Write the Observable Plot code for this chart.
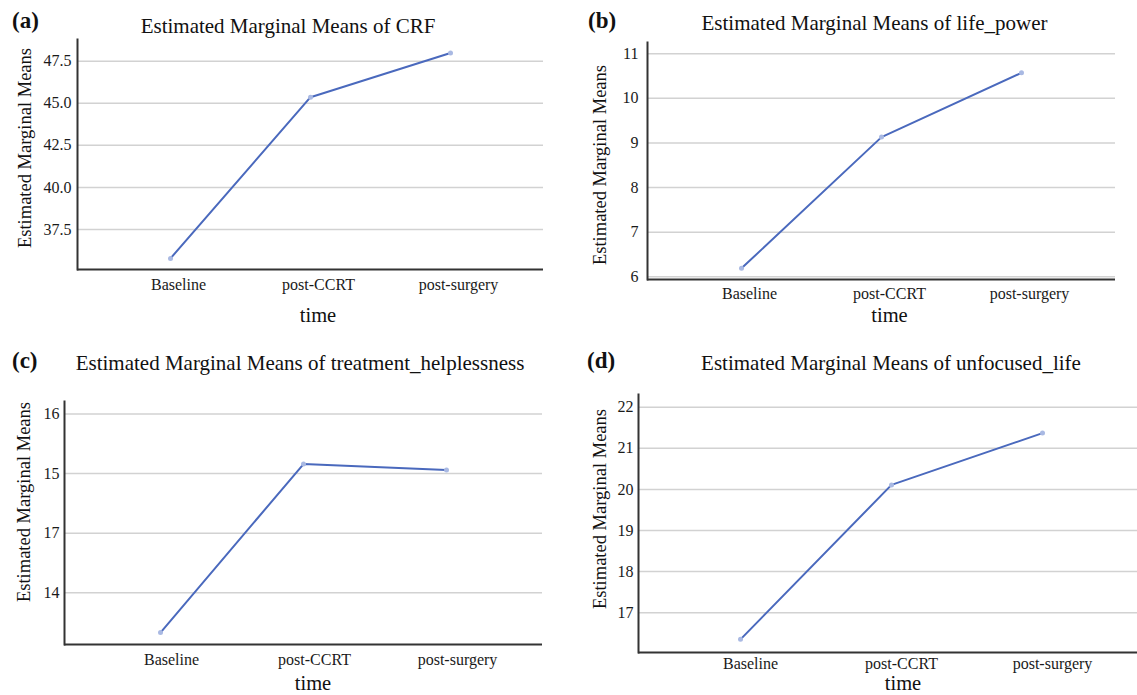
<!DOCTYPE html>
<html>
<head>
<meta charset="utf-8">
<script src="https://cdn.jsdelivr.net/npm/d3@7"></script>
<script src="https://cdn.jsdelivr.net/npm/@observablehq/plot@0.6"></script>
<style>
  html, body { margin: 0; padding: 0; background: #ffffff; }
  #root { position: relative; width: 1137px; height: 695px; overflow: hidden;
          font-family: 'Liberation Serif', 'DejaVu Serif', serif; }
  .panel { position: absolute; }
  .panel svg { display: block; }
  .panel svg text { font-family: 'Liberation Serif', 'DejaVu Serif', serif !important; }
  #overlay { position: absolute; left: 0; top: 0; pointer-events: none; }
  #overlay text { font-family: 'Liberation Serif', 'DejaVu Serif', serif; }
</style>
</head>
<body>
<div id="root"></div>
<script>
// ---------- data ----------
const timePoints = ["Baseline", "post-CCRT", "post-surgery"];

const crfMeans          = [35.78, 45.36, 47.99];
const lifePowerMeans    = [6.19, 9.13, 10.57];
const helplessnessMeans = [12.33, 15.16, 15.06];
const unfocusedMeans    = [16.35, 20.11, 21.37];

const crfTicks = [37.5, 40, 42.5, 45, 47.5];
const crfTickLabels = ["37.5", "40.0", "42.5", "45.0", "47.5"];
const lifePowerTicks = [6, 7, 8, 9, 10, 11];
const lifePowerTickLabels = ["6", "7", "8", "9", "10", "11"];
const helplessnessTicks = [16, 15, 14, 13];
const helplessnessTickLabels = ["16", "15", "17", "14"];
const unfocusedTicks = [17, 18, 19, 20, 21, 22];
const unfocusedTickLabels = ["17", "18", "19", "20", "21", "22"];

const panelLetters = ["(a)", "(b)", "(c)", "(d)"];
const panelTitles = [
  "Estimated Marginal Means of CRF",
  "Estimated Marginal Means of life_power",
  "Estimated Marginal Means of treatment_helplessness",
  "Estimated Marginal Means of unfocused_life"
];
const yAxisTitle = "Estimated Marginal Means";
const xAxisTitle = "time";

// ---------- layout ----------
const FONT = "'Liberation Serif', 'DejaVu Serif', serif";
const panels = [
  { means: crfMeans, ticks: crfTicks, labels: crfTickLabels, domain: [35.12, 48.79],
    left: 0, top: 0, w: 560, h: 300, mt: 39, mb: 31, ml: 77, mr: 17,
    pad: 0.664, align: 0.5, yPad: 6, xPad: 9, xdx: 8 },
  { means: lifePowerMeans, ticks: lifePowerTicks, labels: lifePowerTickLabels, domain: [5.94, 11.25],
    left: 577, top: 0, w: 560, h: 305, mt: 42, mb: 26, ml: 70, mr: 22,
    pad: 0.664, align: 0.5, yPad: 9, xPad: 8, xdx: 8 },
  { means: helplessnessMeans, ticks: helplessnessTicks, labels: helplessnessTickLabels, domain: [12.13, 16.21],
    left: 0, top: 340, w: 560, h: 335, mt: 61, mb: 31, ml: 64, mr: 18,
    pad: 0.665, align: 0.5, yPad: 5, xPad: 9, xdx: 11 },
  { means: unfocusedMeans, ticks: unfocusedTicks, labels: unfocusedTickLabels, domain: [16.03, 22.31],
    left: 577, top: 340, w: 560, h: 340, mt: 54, mb: 28, ml: 61, mr: 0,
    pad: 0.645, align: 0.52, yPad: 5, xPad: 5, xdx: 10 }
];

const root = document.getElementById("root");

panels.forEach((p) => {
  const data = timePoints.map((t, i) => ({ time: t, value: p.means[i] }));
  const chart = Plot.plot({
    width: p.w, height: p.h,
    marginTop: p.mt, marginBottom: p.mb, marginLeft: p.ml, marginRight: p.mr,
    style: { fontFamily: FONT, fontSize: "16px", color: "#1a1a1a", background: "transparent", overflow: "visible" },
    x: { type: "point", domain: timePoints, padding: p.pad, align: p.align },
    y: { domain: p.domain },
    marks: [
      Plot.ruleY(p.ticks, { stroke: "#d2d2d2", strokeWidth: 1.5 }),
      Plot.ruleY([p.domain[0]], { stroke: "#333333", strokeWidth: 2 }),
      Plot.frame({ anchor: "left", stroke: "#333333", strokeWidth: 2 }),
      Plot.axisY({ ticks: p.ticks, tickFormat: (d) => p.labels[p.ticks.indexOf(d)],
                   tickSize: 0, tickPadding: p.yPad, label: null, fontSize: 16, fontFamily: FONT }),
      Plot.axisX({ tickSize: 0, tickPadding: p.xPad, label: null, fontSize: 16, fontFamily: FONT, dx: p.xdx }),
      Plot.line(data, { x: "time", y: "value", stroke: "#4a69bd", strokeWidth: 2 }),
      Plot.dot(data, { x: "time", y: "value", r: 2.5, fill: "#a9b9e3", stroke: null })
    ]
  });
  const div = document.createElement("div");
  div.className = "panel";
  div.style.left = p.left + "px";
  div.style.top = p.top + "px";
  div.appendChild(chart);
  root.appendChild(div);
});

// ---------- text overlay (titles, panel letters, axis titles) ----------
const textLayout = [
  { letter: [12, 28], title: [288, 33], xt: [318, 322], yt: [31, 148] },
  { letter: [588, 28], title: [874.5, 30], xt: [889.5, 322], yt: [606, 165] },
  { letter: [12, 368], title: [300, 370], xt: [313, 690], yt: [30, 502] },
  { letter: [587, 368], title: [891, 370], xt: [903, 690], yt: [606, 509] }
];

const svg = d3.select(root).append("svg")
  .attr("id", "overlay").attr("width", 1137).attr("height", 695)
  .attr("fill", "#111");

textLayout.forEach((L, i) => {
  svg.append("text").attr("x", L.letter[0]).attr("y", L.letter[1])
    .attr("font-family", FONT)
    .attr("font-size", 23).attr("font-weight", "bold").text(panelLetters[i]);
  svg.append("text").attr("x", L.title[0]).attr("y", L.title[1])
    .attr("font-family", FONT)
    .attr("font-size", 21).attr("text-anchor", "middle").text(panelTitles[i]);
  svg.append("text").attr("x", L.xt[0]).attr("y", L.xt[1])
    .attr("font-family", FONT)
    .attr("font-size", 20.5).attr("text-anchor", "middle").text(xAxisTitle);
  svg.append("text").attr("transform", `translate(${L.yt[0]},${L.yt[1]}) rotate(-90)`)
    .attr("font-family", FONT)
    .attr("font-size", 18.5).attr("text-anchor", "middle").text(yAxisTitle);
});
</script>
</body>
</html>
